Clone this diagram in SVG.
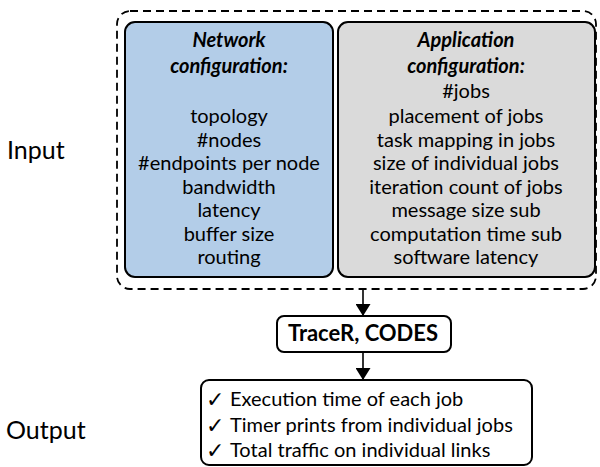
<svg xmlns="http://www.w3.org/2000/svg" width="600" height="467" viewBox="0 0 600 467">
<style>
text{font-family:Lato,"Liberation Sans",sans-serif;fill:#000;}
.t{font-size:20px;text-anchor:middle;}
.h{font-size:20px;text-anchor:middle;font-style:italic;font-weight:bold;}
.lab{font-size:25px;}
.box{stroke:#000;stroke-width:2;}
.conn{stroke:#000;stroke-width:1.6;fill:none;marker-end:url(#ah);}
.o{font-size:20px;}
.ck{font-size:22px;font-family:"DejaVu Sans",sans-serif;}
</style>
<defs>
<marker id="ah" markerWidth="12" markerHeight="15" refX="12" refY="7.5" orient="auto" markerUnits="userSpaceOnUse">
<path d="M0,0 L12,7.5 L0,15 Z" fill="#000"/>
</marker>
</defs>
<rect width="600" height="467" fill="#fff"/>
<g id="input-label"><text class="lab" x="7" y="159">Input</text></g>
<g id="output-label"><text class="lab" x="6" y="439">Output</text></g>
<g id="input-group">
<rect x="117" y="11" width="479" height="278" rx="13" fill="none" stroke="#000" stroke-width="1.8" stroke-dasharray="8,5"/>
</g>
<g id="network">
<rect class="box" x="125" y="22" width="208" height="255" rx="10" fill="#b3cde8"/>
<text class="h" x="229" y="47">Network</text>
<text class="h" x="229" y="73">configuration:</text>
<text class="t" x="229" y="123">topology</text>
<text class="t" x="229" y="146.5">#nodes</text>
<text class="t" x="229" y="170">#endpoints per node</text>
<text class="t" x="229" y="193.5">bandwidth</text>
<text class="t" x="229" y="217">latency</text>
<text class="t" x="229" y="240.5">buffer size</text>
<text class="t" x="229" y="264">routing</text>
</g>
<g id="application">
<rect class="box" x="338" y="22" width="257" height="255" rx="10" fill="#dadada"/>
<text class="h" x="466" y="47">Application</text>
<text class="h" x="466" y="73">configuration:</text>
<text class="t" x="466" y="98">#jobs</text>
<text class="t" x="466" y="123">placement of jobs</text>
<text class="t" x="466" y="146.5">task mapping in jobs</text>
<text class="t" x="466" y="170">size of individual jobs</text>
<text class="t" x="466" y="193.5">iteration count of jobs</text>
<text class="t" x="466" y="217">message size sub</text>
<text class="t" x="466" y="240.5">computation time sub</text>
<text class="t" x="466" y="264">software latency</text>
</g>
<g id="tracer">
<rect class="box" x="277" y="316" width="174" height="36" rx="7" fill="#fff"/>
<text x="363" y="341" font-size="22" font-weight="bold" text-anchor="middle">TraceR, CODES</text>
</g>
<g id="output">
<rect class="box" x="201" y="380" width="331" height="85" rx="8" fill="#fff"/>
<text class="ck" x="206" y="407">✓</text>
<text class="o" x="230" y="406">Execution time of each job</text>
<text class="ck" x="206" y="433">✓</text>
<text class="o" x="230" y="432">Timer prints from individual jobs</text>
<text class="ck" x="206" y="458">✓</text>
<text class="o" x="230" y="457">Total traffic on individual links</text>
</g>
<g id="connectors">
<line class="conn" x1="363" y1="289" x2="363" y2="316"/>
<line class="conn" x1="363" y1="352" x2="363" y2="380"/>
</g>
</svg>
